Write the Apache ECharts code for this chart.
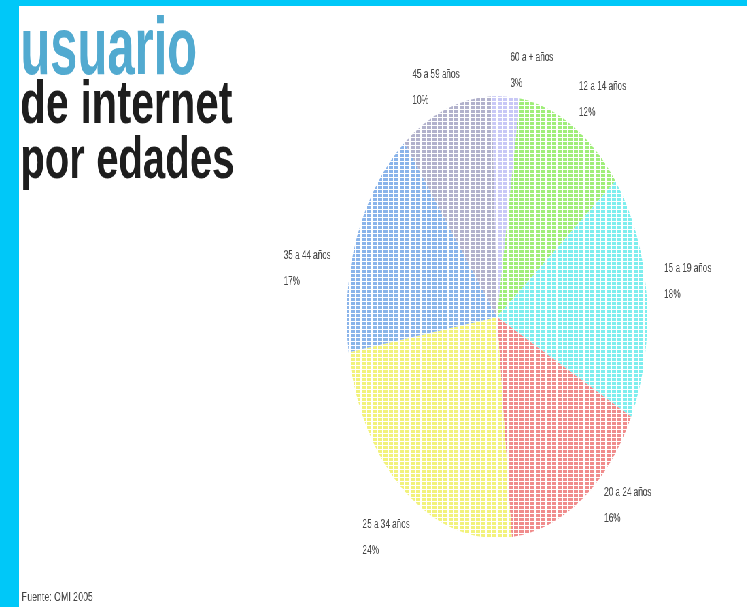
<!DOCTYPE html>
<html>
<head>
<meta charset="utf-8">
<script src="https://cdn.jsdelivr.net/npm/echarts@6/dist/echarts.min.js"></script>
<style>
  html, body { margin: 0; padding: 0; }
  body { width: 747px; height: 607px; background: #00c8f8; overflow: hidden; position: relative; }
  #c { position: absolute; left: 19px; top: 6px; width: 1071px; height: 601px; background: #ffffff;
       transform: scaleX(0.68); transform-origin: 0 0; }
</style>
</head>
<body>
<div id="c"></div>
<script>
// Data (clockwise from the top)
const categories = ['60 a + años', '12 a 14 años', '15 a 19 años', '20 a 24 años', '25 a 34 años', '35 a 44 años', '45 a 59 años'];
const shares = [3, 12, 18, 16, 24, 17, 10];
const titleLines = ['usuario', 'de internet', 'por edades'];
const sourceText = 'Fuente: OMI 2005';

// Styles
const sliceColors = ['#c8c8f6', '#a0ee7a', '#7eeeee', '#f08c8c', '#f2f27c', '#8ab4ea', '#b2b2cc'];
// label nudges [dx, dy] in screen pixels
const labelNudge = [[-6, -18], [-7, -20], [2, -13], [9, 0], [18, 39], [-11, 35], [26, -14]];
const SX = 0.68;

const chart = echarts.init(document.getElementById('c'), null, { renderer: 'canvas' });

const data = categories.map((name, i) => ({
  name: name,
  value: shares[i],
  itemStyle: {
    color: '#ffffff',
    decal: {
      symbol: 'rect',
      symbolSize: 1,
      color: sliceColors[i],
      dashArrayX: [[6, 2]],
      dashArrayY: [3, 1],
      rotation: 0
    }
  }
}));

chart.setOption({
  animation: false,
  backgroundColor: '#ffffff',
  graphic: [
    { type: 'text', x: 2, y: 5, scaleY: 1.13, style: { text: titleLines[0], font: 'bold 72px "Liberation Sans", Arial, sans-serif', fill: '#52aad0' } },
    { type: 'text', x: 2, y: 70, style: { text: titleLines[1], font: 'bold 61px "Liberation Sans", Arial, sans-serif', fill: '#1e1e1e' } },
    { type: 'text', x: 2, y: 126, style: { text: titleLines[2], font: 'bold 59px "Liberation Sans", Arial, sans-serif', fill: '#1e1e1e' } },
    { type: 'text', x: 4, y: 585, style: { text: sourceText, font: '13px "Liberation Sans", Arial, sans-serif', fill: '#444444' } }
  ],
  series: [{
    type: 'pie',
    center: [703, 311],
    radius: [0, 221],
    startAngle: 92,
    clockwise: true,
    avoidLabelOverlap: false,
    data: data,
    label: {
      show: true,
      position: 'outside',
      formatter: '{b}\n\n{c}%',
      color: '#444444',
      fontSize: 12,
      lineHeight: 13,
      fontFamily: '"Liberation Sans", Arial, sans-serif'
    },
    labelLine: { show: false, length: 8, length2: 10 },
    labelLayout: function (p) {
      const n = labelNudge[p.dataIndex];
      return {
        x: p.labelRect.x + n[0] / SX,
        y: p.labelRect.y + n[1],
        align: 'left',
        verticalAlign: 'top'
      };
    },
    emphasis: { disabled: true }
  }]
});
</script>
</body>
</html>
